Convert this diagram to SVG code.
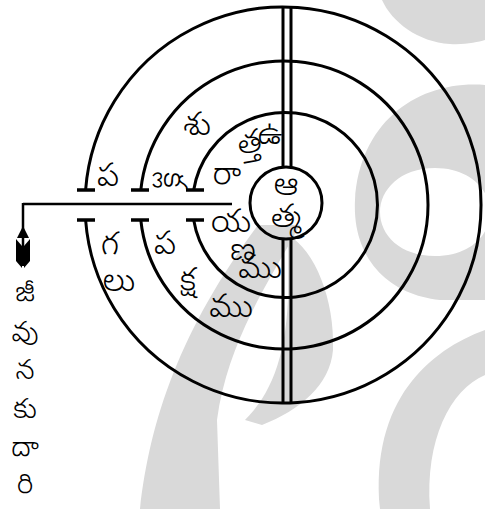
<svg xmlns="http://www.w3.org/2000/svg" width="485" height="509" viewBox="0 0 485 509">
<style>
.ring{fill:none;stroke:#000;stroke-width:3}
.cap{stroke:#000;stroke-width:3.5}
.ln{stroke:#000;stroke-width:2.5;fill:none}
.bar{stroke:#000;stroke-width:3}
.wm{fill:#d9d9d9}
text{font-family:"Noto Sans Telugu","Noto Sans","DejaVu Sans",sans-serif;font-size:32px;font-weight:300;fill:#000;text-anchor:middle;dominant-baseline:central}
.cp{font-size:28px}
</style>
<rect width="485" height="509" fill="#fff"/>
<g id="watermark">
<path class="wm" d="M382,0 C392,22 418,42 450,44 C465,45 478,42 485,40 L485,0 Z"/>
<path class="wm" fill-rule="evenodd" d="M485,85 C420,80 360,120 355,200 C352,260 390,295 440,300 L485,300 Z M435,168 C470,168 490,190 490,212 C490,235 470,256 435,256 C400,256 380,235 380,212 C380,190 400,168 435,168 Z"/>
<path class="wm" d="M258,225 L300,225 C270,280 228,340 217,420 L220,509 L140,509 C150,420 180,330 258,225 Z"/>
<path class="wm" d="M288,235 C315,250 335,300 333,350 C330,385 300,410 262,425 L245,420 C270,395 285,360 288,300 Z"/>
<path class="wm" d="M485,330 C430,350 370,400 380,509 L430,509 C425,440 450,390 485,375 Z"/>
</g>
<g id="connectors">
<line class="ln" x1="23" y1="204" x2="232" y2="204"/>
<line class="ln" x1="23" y1="203" x2="23" y2="266"/>
<polygon points="23,226 17,238 29,238" fill="#000"/>
<polygon points="22,246 16,239 16,261 22,268" fill="#000"/>
<polygon points="24,246 30,239 30,261 24,268" fill="#000"/>
</g>
<g id="outer-ring">
<path class="ring" d="M85.6,190 A198,198 0 1 1 85.6,220"/>
<line class="cap" x1="77" y1="190" x2="95" y2="190"/>
<line class="cap" x1="77" y1="220" x2="95" y2="220"/>
<text x="108" y="179">ప</text>
<text x="110" y="247">గ</text>
<text x="119" y="284">లు</text>
</g>
<g id="middle-ring">
<path class="ring" d="M140.8,190 A144,144 0 1 1 140.8,220"/>
<line class="cap" x1="131" y1="190" x2="149" y2="190"/>
<line class="cap" x1="131" y1="220" x2="149" y2="220"/>
<text x="197" y="128">శు</text>
<text transform="translate(170,180) rotate(90)">క్ల</text>
<text x="165" y="247">ప</text>
<text x="188" y="283">క్ష</text>
<text x="231" y="310">ము</text>
</g>
<g id="inner-ring">
<path class="ring" d="M193.7,190 A92.5,92.5 0 1 1 193.7,220"/>
<line class="cap" x1="186" y1="190" x2="204" y2="190"/>
<line class="cap" x1="186" y1="220" x2="204" y2="220"/>
<text x="270" y="137" font-size="28">ఉ</text>
<text transform="translate(250,146) rotate(-10)" font-size="28">త్త</text>
<text x="227" y="177">రా</text>
<text x="231" y="225">య</text>
<text x="243" y="253" font-size="23">ణ</text>
<text x="260" y="271">ము</text>
</g>
<g id="axis">
<line class="bar" x1="283" y1="7" x2="283" y2="168"/>
<line class="bar" x1="291" y1="7" x2="291" y2="168"/>
<line class="bar" x1="283" y1="239" x2="283" y2="404"/>
<line class="bar" x1="291" y1="239" x2="291" y2="404"/>
</g>
<g id="atma">
<circle class="ring" cx="286" cy="203" r="36" fill="#fff"/>
<text x="286" y="188" font-size="30">ఆ</text>
<text x="286" y="220" font-size="30">త్మ</text>
</g>
<g id="caption">
<text class="cp" x="25" y="296">జీ</text>
<text class="cp" x="25" y="336">వు</text>
<text class="cp" x="25" y="374">న</text>
<text class="cp" x="25" y="413">కు</text>
<text class="cp" x="25" y="451">దా</text>
<text class="cp" x="25" y="488">రి</text>
</g>
</svg>
